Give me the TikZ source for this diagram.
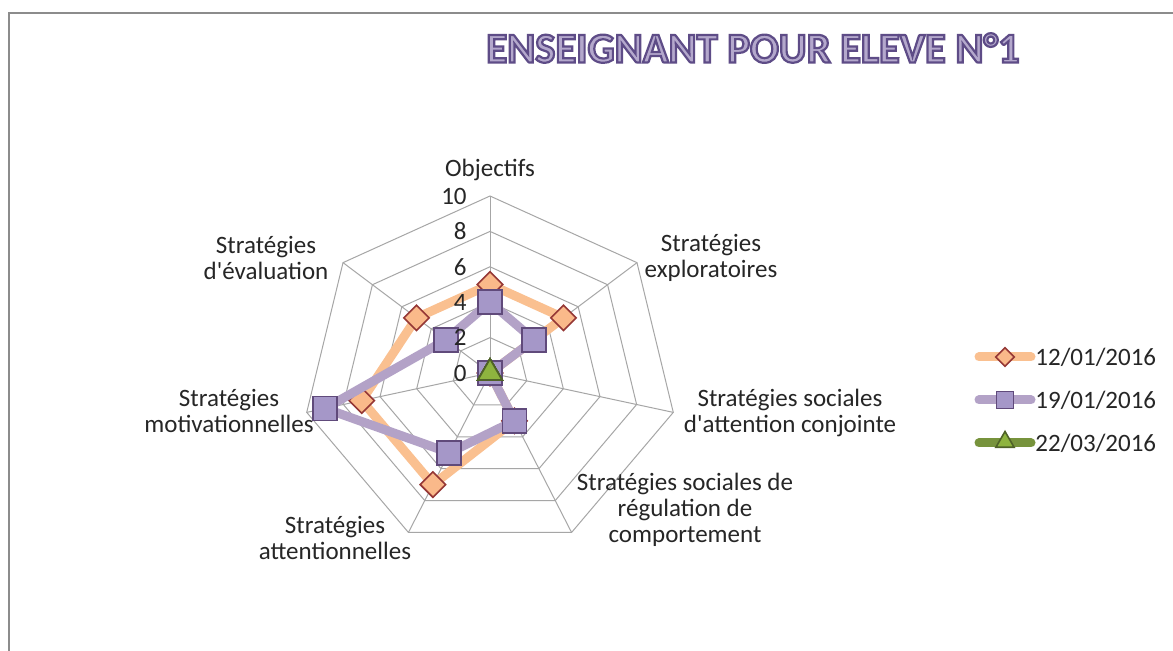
\documentclass[tikz,border=0pt]{standalone}
\usepackage{fontspec}
\setmainfont{Carlito}
\usetikzlibrary{shapes.geometric}
\definecolor{framegray}{HTML}{8C8C8C}
\definecolor{gridgray}{HTML}{A6A6A6}
\definecolor{txt}{HTML}{262626}
\definecolor{orline}{HTML}{FAC090}
\definecolor{orfill}{HTML}{FAB98A}
\definecolor{oredge}{HTML}{953735}
\definecolor{puline}{HTML}{B3A2C7}
\definecolor{pufill}{HTML}{A597C8}
\definecolor{puedge}{HTML}{604A7B}
\definecolor{grline}{HTML}{77933C}
\definecolor{grfill}{HTML}{8EB43F}
\definecolor{gredge}{HTML}{4F6228}
\definecolor{titlefill}{HTML}{B4A8CC}
\tikzset{
  lbl/.style={font=\fontsize{12.5}{13}\selectfont, text=txt, align=center, inner sep=0pt},
  tick/.style={font=\fontsize{12.5}{13}\selectfont, text=txt, anchor=east, inner sep=0pt},
  gridline/.style={draw=gridgray, line width=0.5pt},
  orser/.style={draw=orline, line width=4.5pt, line join=round},
  puser/.style={draw=puline, line width=4.5pt, line join=round},
  grser/.style={draw=grline, line width=4.5pt, line join=round},
  ormark/.style={diamond, draw=oredge, fill=orfill, line width=0.8pt, inner sep=0pt, minimum width=13pt, minimum height=13pt},
  pumark/.style={rectangle, draw=puedge, fill=pufill, line width=0.8pt, inner sep=0pt, minimum size=12pt},
  grmark/.style={regular polygon, regular polygon sides=3, draw=gredge, fill=grfill, line width=0.8pt, inner sep=0pt, minimum size=14pt},
}
\begin{document}
\begin{tikzpicture}[x=0.5pt,y=-0.5pt]
\useasboundingbox (0,0) rectangle (1173,651);
\fill[white] (0,0) rectangle (1173,651);
\draw[framegray, line width=1.2pt] (1173,13) -- (9,13) -- (9,651);
% title
\node[font=\fontsize{21.3}{24}\selectfont\bfseries, inner sep=0pt] (title) at (753,48)
  {{\color{titlefill}\special{pdf:literal direct 0.37 0.30 0.53 RG 1.1 w 2 Tr}ENSEIGNANT POUR ELEVE N°1\special{pdf:literal direct 0 Tr}}};
\coordinate (c) at (490,373);
\begin{scope}[shift={(c)}, x=9.4pt, y=8.85pt]
  % grid rings
  \foreach \r in {2,4,...,10} {
    \draw[gridline] (90:\r) \foreach \i in {1,...,6} { -- ({90-\i*360/7}:\r) } -- cycle;
  }
  \foreach \i in {0,...,6} { \draw[gridline] (0,0) -- ({90-\i*360/7}:10); }
  % data
  \foreach \v [count=\i from 0] in {5,5,0,3,7,7,5} { \coordinate (o\i) at ({90-\i*360/7}:\v); }
  \foreach \v [count=\i from 0] in {4,3,0,3,5,9,3} { \coordinate (p\i) at ({90-\i*360/7}:\v); }
  \foreach \v [count=\i from 0] in {0,0,0,0,0,0,0} { \coordinate (g\i) at ({90-\i*360/7}:\v); }
\end{scope}
% series 1
\draw[orser] (o0) -- (o1) -- (o2) -- (o3) -- (o4) -- (o5) -- (o6) -- cycle;
\foreach \i in {0,...,6} { \node[ormark] (om\i) at (o\i) {}; }
% series 2
\draw[puser] (p0) -- (p1) -- (p2) -- (p3) -- (p4) -- (p5) -- (p6) -- cycle;
\foreach \i in {0,...,6} { \node[pumark] (pm\i) at (p\i) {}; }
% series 3
\draw[grser] (g0) -- (g1) -- (g2) -- (g3) -- (g4) -- (g5) -- (g6) -- cycle;
\foreach \i in {0,...,6} { \node[grmark] (gm\i) at (g\i) {}; }
% tick labels
\foreach \v in {0,2,...,10} { \node[tick] (t\v) at (467,{373-17.7*\v}) {\v}; }
% axis labels
\node[lbl] (l0) at (490,170) {Objectifs};
\node[lbl] (l1) at (711,258) {Stratégies\\exploratoires};
\node[lbl] (l2) at (790,413) {Stratégies sociales\\d\textquotesingle attention conjointe};
\node[lbl] (l3) at (685,510) {Stratégies sociales de\\régulation de\\comportement};
\node[lbl] (l4) at (335,538) {Stratégies\\attentionnelles};
\node[lbl] (l5) at (229,411) {Stratégies\\motivationnelles};
\node[lbl] (l6) at (266,258) {Stratégies\\d\textquotesingle évaluation};
% legend
\draw[orser, line cap=round] (979,357) -- (1031,357);
\node[ormark, minimum width=9.5pt, minimum height=9.5pt] (k1) at (1005,357) {};
\node[lbl, anchor=west] (e1) at (1035,357) {12/01/2016};
\draw[puser, line cap=round] (979,400) -- (1031,400);
\node[pumark, minimum size=8.5pt] (k2) at (1005,400) {};
\node[lbl, anchor=west] (e2) at (1035,400) {19/01/2016};
\draw[grser, line cap=round] (979,443) -- (1031,443);
\node[grmark, minimum size=10.5pt] (k3) at (1005,442) {};
\node[lbl, anchor=west] (e3) at (1035,443) {22/03/2016};
\end{tikzpicture}
\end{document}
